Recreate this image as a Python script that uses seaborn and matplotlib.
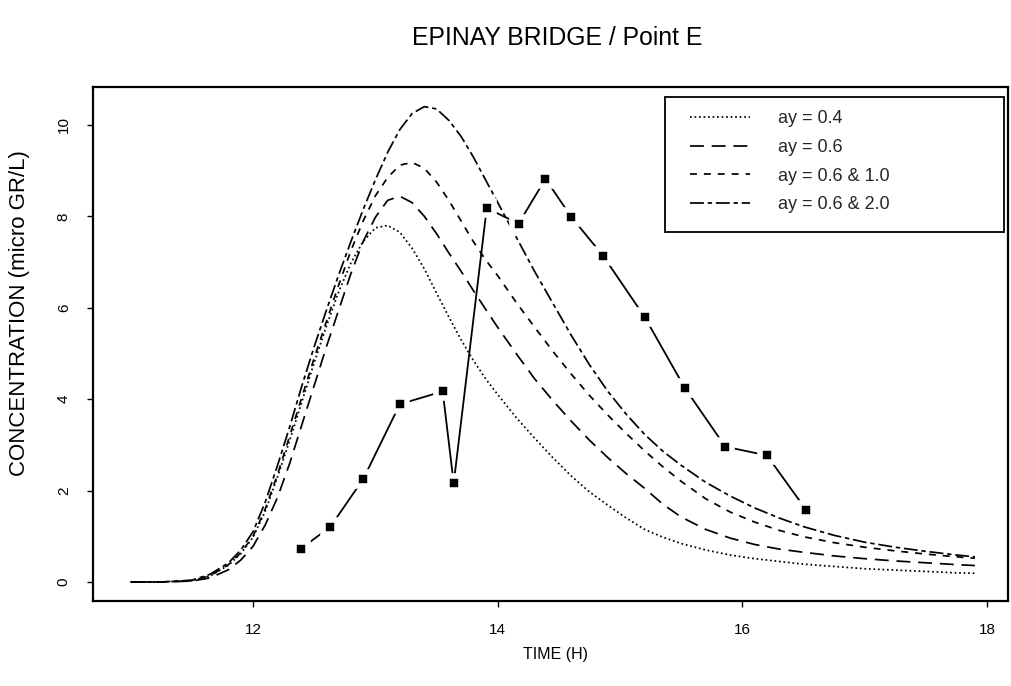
import numpy as np
import pandas as pd
import matplotlib
matplotlib.use("Agg")
import matplotlib.pyplot as plt
from matplotlib.lines import Line2D
from matplotlib.patches import Rectangle
import seaborn as sns

# Simulated concentration curves (time in hours)
time_model = [11.0, 11.25, 11.5, 11.65, 11.8, 11.9, 12.0, 12.1, 12.2, 12.3, 12.4,
              12.5, 12.6, 12.7, 12.8, 12.9, 13.0, 13.1, 13.2, 13.3, 13.4, 13.5,
              13.6, 13.7, 13.8, 13.9, 14.0, 14.15, 14.3, 14.45, 14.6, 14.75,
              14.9, 15.05, 15.2, 15.35, 15.5, 15.7, 15.9, 16.1, 16.3, 16.5,
              16.75, 17.0, 17.25, 17.5, 17.75, 17.9]
conc_ay04 = [0.0, 0.0, 0.03, 0.13, 0.37, 0.62, 0.98, 1.55, 2.30, 3.10, 3.95,
             4.80, 5.60, 6.35, 6.98, 7.45, 7.75, 7.80, 7.65, 7.30, 6.85, 6.32,
             5.80, 5.30, 4.85, 4.45, 4.10, 3.60, 3.15, 2.72, 2.32, 1.97,
             1.68, 1.40, 1.15, 0.98, 0.84, 0.70, 0.59, 0.51, 0.45, 0.39,
             0.34, 0.29, 0.26, 0.23, 0.20, 0.19]
conc_ay06 = [0.0, 0.0, 0.02, 0.09, 0.27, 0.48, 0.78, 1.25, 1.85, 2.60, 3.45,
             4.30, 5.15, 5.95, 6.75, 7.45, 7.98, 8.35, 8.44, 8.30, 8.00, 7.62,
             7.20, 6.80, 6.38, 5.97, 5.57, 5.00, 4.45, 3.97, 3.52, 3.10,
             2.72, 2.37, 2.05, 1.70, 1.42, 1.15, 0.96, 0.82, 0.72, 0.65,
             0.57, 0.51, 0.46, 0.42, 0.38, 0.36]
conc_ay06_10 = [0.0, 0.0, 0.03, 0.14, 0.38, 0.64, 1.00, 1.60, 2.35, 3.20, 4.05,
                4.90, 5.70, 6.50, 7.25, 7.90, 8.45, 8.85, 9.12, 9.18, 9.05, 8.75,
                8.35, 7.90, 7.45, 7.05, 6.70, 6.12, 5.58, 5.05, 4.55, 4.08,
                3.65, 3.25, 2.87, 2.52, 2.20, 1.82, 1.53, 1.31, 1.13, 0.99,
                0.86, 0.76, 0.68, 0.61, 0.55, 0.52]
conc_ay06_20 = [0.0, 0.0, 0.04, 0.17, 0.42, 0.70, 1.10, 1.75, 2.55, 3.40, 4.30,
                5.15, 5.95, 6.72, 7.45, 8.15, 8.80, 9.40, 9.90, 10.25, 10.40, 10.35,
                10.10, 9.75, 9.30, 8.80, 8.30, 7.55, 6.80, 6.10, 5.40, 4.75,
                4.17, 3.67, 3.23, 2.86, 2.55, 2.18, 1.88, 1.62, 1.40, 1.21,
                1.02, 0.87, 0.76, 0.67, 0.59, 0.55]

# Measured concentrations at point E
time_obs = [12.39, 12.63, 12.90, 13.20, 13.55, 13.64, 13.91, 14.17, 14.39,
            14.60, 14.86, 15.20, 15.53, 15.86, 16.20, 16.52]
conc_obs = [0.73, 1.20, 2.25, 3.89, 4.17, 2.16, 8.18, 7.84, 8.82, 7.99,
            7.14, 5.80, 4.24, 2.96, 2.77, 1.58]

series_labels = ["ay = 0.4", "ay = 0.6", "ay = 0.6 & 1.0", "ay = 0.6 & 2.0"]
x_ticks = [12, 14, 16, 18]
y_ticks = [0, 2, 4, 6, 8, 10]

sns.set_theme(style="ticks")
plt.rcParams["font.family"] = ["Liberation Sans", "DejaVu Sans"]

model = pd.DataFrame({
    "time": time_model * 4,
    "conc": conc_ay04 + conc_ay06 + conc_ay06_10 + conc_ay06_20,
    "run": np.repeat(series_labels, len(time_model)),
})
obs = pd.DataFrame({"time": time_obs, "conc": conc_obs})

dash_styles = {
    "ay = 0.4": (1.0, 1.6),
    "ay = 0.6": (8.0, 4.5),
    "ay = 0.6 & 1.0": (4.0, 4.0),
    "ay = 0.6 & 2.0": (8.0, 2.2, 2.5, 2.2),
}
lw = 1.25

fig = plt.figure(figsize=(10.11, 6.86), dpi=100)
ax = fig.add_axes([0.092, 0.1239, 0.905, 0.7493])

sns.lineplot(data=model, x="time", y="conc", style="run", dashes=dash_styles,
             color="black", linewidth=lw, legend=False, sort=False, ax=ax)
sns.lineplot(data=obs, x="time", y="conc", color="black", linewidth=1.3,
             marker="s", markersize=10.5, markerfacecolor="black",
             markeredgecolor="white", markeredgewidth=4, sort=False, ax=ax)

ax.set_xlim(10.692, 18.17)
ax.set_ylim(-0.416, 10.83)
ax.set_xticks(x_ticks)
ax.set_yticks(y_ticks)
ax.set_xticklabels([str(v) for v in x_ticks])
ax.set_yticklabels([str(v) for v in y_ticks])
ax.tick_params(axis="both", direction="out", length=4, width=1.0,
               color="black", labelsize=11, labelcolor="black")
ax.tick_params(axis="x", pad=12)
ax.tick_params(axis="y", pad=12, labelrotation=90)
for lab in ax.get_yticklabels():
    lab.set_va("center")

for side in ["top", "right", "bottom", "left"]:
    ax.spines[side].set_visible(True)
    ax.spines[side].set_color("black")
    ax.spines[side].set_linewidth(1.6)

ax.set_xlabel("TIME (H)", fontsize=11.5, color="black")
ax.set_ylabel("CONCENTRATION (micro GR/L)", fontsize=16, color="black")
ax.xaxis.label.set_va("center")
ax.yaxis.label.set_va("center")
ax.xaxis.set_label_coords(0.506, -0.105)
ax.yaxis.set_label_coords(-0.080, 0.56)

fig.text(0.551, 1 - 38 / 686, "EPINAY BRIDGE / Point E", ha="center",
         va="center", fontsize=17.8, color="black")

# Legend with a plain rectangular frame
handles = [Line2D([0], [0], color="black", linewidth=lw,
                  dashes=dash_styles[s]) for s in series_labels]
ax.legend(handles, series_labels, loc="upper left",
          bbox_to_anchor=(0.6525, 0.955), frameon=False, fontsize=13,
          handlelength=3.3, handletextpad=1.55, labelspacing=0.65,
          borderaxespad=0, borderpad=0)
ax.add_patch(Rectangle((0.6251, 0.7179), 0.3705, 0.2626,
                       transform=ax.transAxes, fill=False,
                       edgecolor="black", linewidth=1.3, zorder=5))

fig.savefig("out.png", dpi=100)
